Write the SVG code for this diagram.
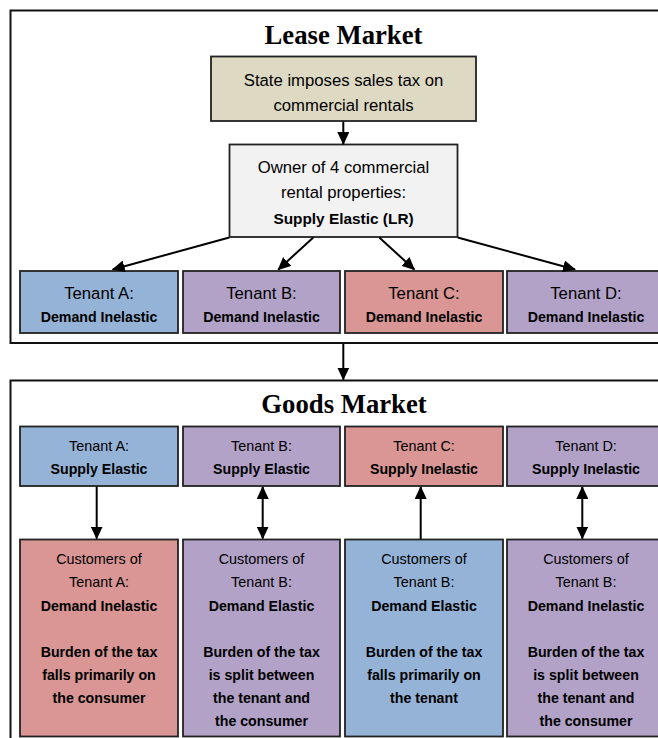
<svg xmlns="http://www.w3.org/2000/svg" width="658" height="738" viewBox="0 0 658 738">
<defs>
<marker id="ah" markerUnits="userSpaceOnUse" markerWidth="13" markerHeight="12" viewBox="0 0 13 12" refX="12" refY="6" orient="auto-start-reverse">
<path d="M0,0 L13,6 L0,12 z" fill="#000"/>
</marker>
<style>
.frame{fill:#fff;stroke:#111;stroke-width:2}
.box{stroke:#222;stroke-width:1.8}
.tan{fill:#ddd9c3}
.gray{fill:#f2f2f2}
.blue{fill:#95b3d7}
.purple{fill:#b2a2c7}
.red{fill:#d99694}
.title{font-family:"Liberation Serif",serif;font-weight:bold;font-size:26.7px;fill:#000;text-anchor:middle}
text{font-family:"Liberation Sans",Arial,sans-serif;fill:#000;text-anchor:middle}
.t1{font-size:16.7px}
.t2{font-size:14.4px}
.b1{font-size:15.4px;font-weight:bold}
.b2{font-size:14.2px;font-weight:bold}
.conn line{stroke:#000;stroke-width:2;fill:none}
.one{marker-end:url(#ah)}
.two{marker-start:url(#ah);marker-end:url(#ah)}
</style>
</defs>
<g id="lease-market">
<rect class="frame" x="10.5" y="10.5" width="700" height="332.5"/>
<text class="title" x="343.5" y="44">Lease Market</text>
</g>
<g id="goods-market">
<rect class="frame" x="10.5" y="380.5" width="700" height="400"/>
<text class="title" x="344" y="413">Goods Market</text>
</g>
<g id="state">
<rect class="box tan" x="211" y="56.5" width="265" height="64.5"/>
<text class="t1" x="343.5" y="85.7">State imposes sales tax on</text>
<text class="t1" x="343.5" y="111">commercial rentals</text>
</g>
<g id="owner">
<rect class="box gray" x="229.5" y="144.5" width="228" height="92.5"/>
<text class="t1" x="343.5" y="173">Owner of 4 commercial</text>
<text class="t1" x="343.5" y="198">rental properties:</text>
<text class="b1" x="343.5" y="224">Supply Elastic (LR)</text>
</g>
<g id="lease-tenant-a">
<rect class="box blue" x="20" y="271" width="158" height="62"/>
<text class="t1" x="99" y="299">Tenant A:</text>
<text class="b2" x="99" y="321.7">Demand Inelastic</text>
</g>
<g id="lease-tenant-b">
<rect class="box purple" x="183" y="271" width="157" height="62"/>
<text class="t1" x="261.5" y="299">Tenant B:</text>
<text class="b2" x="261.5" y="321.7">Demand Inelastic</text>
</g>
<g id="lease-tenant-c">
<rect class="box red" x="345" y="271" width="158" height="62"/>
<text class="t1" x="424" y="299">Tenant C:</text>
<text class="b2" x="424" y="321.7">Demand Inelastic</text>
</g>
<g id="lease-tenant-d">
<rect class="box purple" x="507" y="271" width="158" height="62"/>
<text class="t1" x="586" y="299">Tenant D:</text>
<text class="b2" x="586" y="321.7">Demand Inelastic</text>
</g>
<g id="goods-tenant-a">
<rect class="box blue" x="20" y="426.5" width="158" height="59.5"/>
<text class="t2" x="99" y="451">Tenant A:</text>
<text class="b2" x="99" y="474">Supply Elastic</text>
</g>
<g id="goods-tenant-b">
<rect class="box purple" x="183" y="426.5" width="157" height="59.5"/>
<text class="t2" x="261.5" y="451">Tenant B:</text>
<text class="b2" x="261.5" y="474">Supply Elastic</text>
</g>
<g id="goods-tenant-c">
<rect class="box red" x="345" y="426.5" width="158" height="59.5"/>
<text class="t2" x="424" y="451">Tenant C:</text>
<text class="b2" x="424" y="474">Supply Inelastic</text>
</g>
<g id="goods-tenant-d">
<rect class="box purple" x="507" y="426.5" width="158" height="59.5"/>
<text class="t2" x="586" y="451">Tenant D:</text>
<text class="b2" x="586" y="474">Supply Inelastic</text>
</g>
<g id="customers-a">
<rect class="box red" x="20" y="539.5" width="158" height="197"/>
<text class="t2" x="99" y="564.3">Customers of</text>
<text class="t2" x="99" y="587.3">Tenant A:</text>
<text class="b2" x="99" y="611">Demand Inelastic</text>
<text class="b2" x="99" y="657">Burden of the tax</text>
<text class="b2" x="99" y="680">falls primarily on</text>
<text class="b2" x="99" y="703">the consumer</text>
</g>
<g id="customers-b">
<rect class="box purple" x="183" y="539.5" width="157" height="197"/>
<text class="t2" x="261.5" y="564.3">Customers of</text>
<text class="t2" x="261.5" y="587.3">Tenant B:</text>
<text class="b2" x="261.5" y="611">Demand Elastic</text>
<text class="b2" x="261.5" y="657">Burden of the tax</text>
<text class="b2" x="261.5" y="680">is split between</text>
<text class="b2" x="261.5" y="703">the tenant and</text>
<text class="b2" x="261.5" y="726">the consumer</text>
</g>
<g id="customers-c">
<rect class="box blue" x="345" y="539.5" width="158" height="197"/>
<text class="t2" x="424" y="564.3">Customers of</text>
<text class="t2" x="424" y="587.3">Tenant B:</text>
<text class="b2" x="424" y="611">Demand Elastic</text>
<text class="b2" x="424" y="657">Burden of the tax</text>
<text class="b2" x="424" y="680">falls primarily on</text>
<text class="b2" x="424" y="703">the tenant</text>
</g>
<g id="customers-d">
<rect class="box purple" x="507" y="539.5" width="158" height="197"/>
<text class="t2" x="586" y="564.3">Customers of</text>
<text class="t2" x="586" y="587.3">Tenant B:</text>
<text class="b2" x="586" y="611">Demand Inelastic</text>
<text class="b2" x="586" y="657">Burden of the tax</text>
<text class="b2" x="586" y="680">is split between</text>
<text class="b2" x="586" y="703">the tenant and</text>
<text class="b2" x="586" y="726">the consumer</text>
</g>
<g id="connectors" class="conn">
<line class="one" x1="343.3" y1="121.5" x2="343.3" y2="144"/>
<line class="one" x1="229.3" y1="237.5" x2="112.7" y2="269.5"/>
<line class="one" x1="313.3" y1="237.5" x2="278.3" y2="269.5"/>
<line class="one" x1="379.3" y1="237.5" x2="414.3" y2="269.5"/>
<line class="one" x1="457.7" y1="237.5" x2="575" y2="269.5"/>
<line class="one" x1="343.3" y1="344" x2="343.3" y2="379.5"/>
<line class="one" x1="96.7" y1="486.5" x2="96.7" y2="538.5"/>
<line class="two" x1="262.7" y1="487" x2="262.7" y2="538.5"/>
<line class="one" x1="420.7" y1="539" x2="420.7" y2="487"/>
<line class="two" x1="582.3" y1="487" x2="582.3" y2="538.5"/>
</g>
</svg>
